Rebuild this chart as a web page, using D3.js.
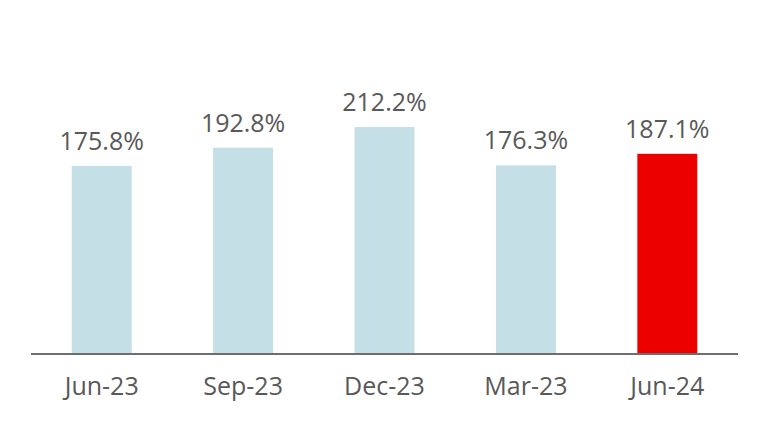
<!DOCTYPE html>
<html><head><meta charset="utf-8">
<script src="https://cdn.jsdelivr.net/npm/d3@7"></script>
<style>body{margin:0;background:#fff}svg{display:block}</style>
</head><body>
<svg id="c" width="768" height="432"></svg>
<script>
const categories = ["Jun-23","Sep-23","Dec-23","Mar-23","Jun-24"];
const values = [175.8, 192.8, 212.2, 176.3, 187.1];
const highlight = [false, false, false, false, true];

const svg = d3.select("#c");
const x = d3.scaleBand().domain(categories).range([31, 738]).paddingInner(0.576).paddingOuter(0.288);
const y = d3.scaleLinear().domain([0, 300]).range([354, 33]);

svg.selectAll("rect.bar").data(values).join("rect")
  .attr("class","bar")
  .attr("x",(d,i)=>x(categories[i]))
  .attr("width",x.bandwidth())
  .attr("y",d=>y(d))
  .attr("height",d=>y(0)-y(d))
  .attr("fill",(d,i)=>highlight[i]?"#ec0000":"#c5dfe7");

svg.selectAll("text.val").data(values).join("text")
  .attr("class","val")
  .attr("x",(d,i)=>x(categories[i])+x.bandwidth()/2)
  .attr("y",d=>y(d)-16)
  .attr("text-anchor","middle")
  .attr("font-family","Open Sans, sans-serif")
  .attr("font-size",25)
  .attr("fill","#595959")
  .text(d=>d.toFixed(1)+"%");

const axis = d3.axisBottom(x).tickSize(0).tickPadding(0);
const g = svg.append("g").attr("transform",`translate(0,${y(0)})`).call(axis);
g.select(".domain").attr("stroke","#6e6e6e").attr("stroke-width",2).attr("d","M31,0H738");
g.selectAll(".tick text")
  .attr("font-family","Open Sans, sans-serif")
  .attr("font-size",25)
  .attr("fill","#595959")
  .attr("dy",null)
  .attr("y",41);
</script>
</body></html>
